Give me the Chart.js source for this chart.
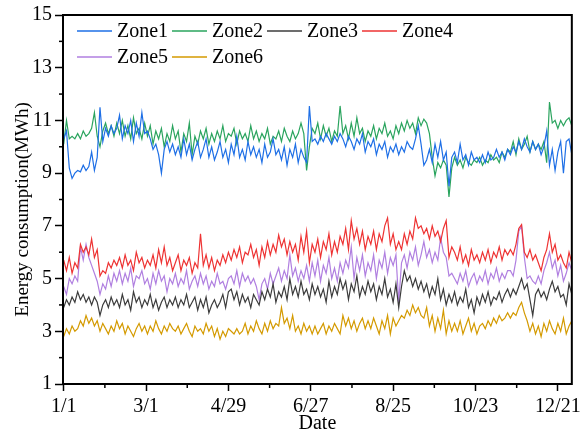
<!DOCTYPE html>
<html>
<head>
<meta charset="utf-8">
<script src="https://cdn.jsdelivr.net/npm/chart.js@4.4.0/dist/chart.umd.min.js"></script>
<style>
  html, body { margin: 0; padding: 0; background: #fff; }
  #wrap { width: 585px; height: 443px; }
</style>
</head>
<body>
<div id="wrap"><canvas id="chart" width="585" height="443"></canvas></div>
<script>
// Daily energy use, one value every second day from 1/1
const dayStep = 2;

const zone1 = [
  10.3,10.6,9.2,8.8,9.0,9.1,9.05,9.3,9.1,9.25,
  9.8,9.1,9.6,11.5,10.2,10.7,10.4,10.8,10.5,10.7,
  11.2,10.3,10.8,10.5,11.0,10.2,10.9,10.4,11.3,10.5,
  10.6,10.3,9.9,10.1,9.7,9.0,9.9,10.2,9.8,10.1,
  9.7,10.0,9.6,10.3,9.7,10.1,9.5,9.9,10.2,9.6,
  9.9,10.3,9.6,10.0,9.5,9.8,10.2,9.6,9.9,9.4,
  10.1,9.7,10.4,9.6,9.9,9.5,10.2,9.7,10.0,9.6,
  9.9,9.4,10.1,9.6,9.8,10.3,9.7,9.9,9.5,10.0,
  9.3,9.9,9.6,10.1,9.4,9.9,9.6,9.4,11.55,10.2,
  10.3,10.1,10.4,10.2,10.5,10.3,10.1,10.4,10.2,10.5,
  10.3,10.0,10.4,10.2,9.9,10.3,10.1,10.5,9.8,10.2,
  10.0,10.3,9.7,10.1,9.9,10.2,9.6,10.0,9.8,10.1,
  9.7,10.0,9.8,10.2,10.0,9.9,10.3,10.8,10.1,9.3,
  9.5,9.9,9.4,10.1,9.6,10.2,9.5,9.8,8.5,9.6,
  9.8,9.4,10.1,9.5,9.7,9.3,9.8,9.5,9.6,9.4,
  9.7,9.4,9.8,9.5,9.6,9.9,9.6,9.8,9.5,9.9,
  9.7,10.0,9.8,10.2,9.9,10.3,10.0,9.8,10.2,9.9,
  10.1,9.7,10.0,10.6,9.3,9.9,9.1,9.8,10.2,9.0,
  10.2,10.3,9.7
];
const zone2 = [
  10.1,11.0,10.3,10.4,10.3,10.5,10.3,10.6,10.4,10.5,
  10.7,11.3,10.4,10.0,10.6,10.9,10.5,10.8,10.4,10.9,
  10.5,11.0,10.4,10.8,10.3,11.1,10.5,10.7,10.3,10.9,
  10.4,10.8,10.1,10.6,10.3,10.7,10.0,10.5,10.2,10.8,
  10.3,10.6,9.8,10.5,10.2,10.9,9.7,10.4,10.1,10.6,
  10.3,10.7,10.1,10.5,10.2,10.6,10.3,10.8,10.2,10.5,
  10.4,10.7,10.1,10.6,10.3,10.5,10.2,10.8,10.3,10.6,
  10.2,10.5,10.3,10.7,10.1,10.4,10.3,10.6,10.2,10.7,
  10.4,10.2,10.6,10.3,10.5,10.9,10.5,9.1,10.0,10.7,
  10.5,10.9,10.3,10.8,10.4,10.7,10.2,10.6,10.4,11.55,
  10.5,10.8,10.3,10.9,10.4,11.1,10.5,10.7,10.2,10.6,
  10.4,10.8,10.3,10.7,10.5,10.9,10.4,10.6,10.3,10.8,
  10.5,10.9,10.6,11.0,10.7,10.9,10.5,11.1,10.8,11.05,
  10.9,10.5,9.6,8.9,9.4,9.2,9.5,9.3,8.1,9.2,
  9.6,9.3,9.5,9.2,9.6,9.4,9.3,9.5,9.4,9.6,
  9.3,9.5,9.4,9.7,9.5,9.6,9.4,9.8,9.6,9.9,
  9.8,10.2,9.7,10.3,9.9,10.1,10.4,9.8,10.2,9.9,
  10.1,9.9,10.2,9.4,11.7,10.9,11.0,10.7,11.0,10.8,
  11.0,11.1,10.8
];
const zone3 = [
  3.9,4.2,4.0,4.3,4.1,4.5,4.2,4.4,4.1,4.3,
  4.0,4.3,4.1,3.6,4.0,4.2,3.9,4.3,4.0,4.2,
  3.9,4.4,4.0,4.2,3.8,4.5,4.1,4.3,3.9,4.2,
  4.0,4.4,3.9,4.2,3.8,4.1,4.3,3.9,4.2,4.0,
  4.3,3.9,4.2,4.0,4.4,3.9,4.1,4.3,3.8,4.2,
  3.9,4.3,3.7,4.0,4.2,3.9,4.1,4.4,3.9,4.5,
  4.6,4.2,4.5,4.0,4.4,4.1,4.3,3.9,4.4,4.2,
  4.0,4.5,4.2,4.6,4.3,4.8,4.1,4.5,4.3,4.7,
  4.2,5.0,4.4,4.7,4.3,4.9,4.4,4.6,4.2,4.8,
  4.4,4.7,4.3,4.6,4.1,4.9,4.3,4.7,4.4,5.0,
  4.6,4.9,4.2,4.8,4.5,5.1,4.3,4.7,4.4,4.9,
  4.5,4.8,4.2,4.7,4.4,5.0,4.3,4.6,4.1,4.8,
  3.9,4.7,5.3,4.9,5.1,4.7,5.0,4.6,4.9,4.5,
  4.8,4.3,4.7,4.4,5.0,4.2,4.6,4.0,4.4,4.1,
  4.5,4.0,4.3,4.1,4.6,3.9,4.2,3.7,4.3,4.0,
  4.4,4.1,4.5,4.0,4.3,4.2,4.5,4.1,4.4,4.6,
  4.3,4.6,4.4,4.7,5.0,4.6,4.8,4.2,3.6,4.4,
  4.6,4.3,4.5,4.2,4.6,4.9,4.5,4.7,4.3,4.4,
  4.0,4.8,4.4
];
const zone4 = [
  5.7,5.3,5.8,5.2,5.6,5.4,6.3,6.0,6.2,5.9,
  6.5,5.8,6.1,5.1,5.3,5.2,5.6,5.4,5.7,5.5,
  5.8,5.4,5.9,5.5,5.7,5.3,6.0,5.6,5.8,5.4,
  5.7,5.5,5.9,5.4,6.1,5.6,6.2,5.5,5.8,5.3,
  5.6,5.9,5.3,5.7,5.5,5.8,5.2,5.6,5.4,6.7,
  5.5,5.9,5.4,5.8,5.3,5.7,5.5,5.9,5.6,6.0,
  5.7,6.1,5.8,6.2,5.6,6.0,5.9,6.3,5.8,6.1,
  5.5,6.2,5.8,6.4,5.9,6.3,6.0,6.65,6.2,6.5,
  5.9,6.4,6.0,6.3,5.7,6.6,6.0,6.8,5.6,6.3,
  6.0,6.5,5.8,6.4,6.1,6.7,5.9,6.4,6.0,6.6,
  6.3,6.9,6.1,7.2,6.5,6.9,6.3,6.8,6.1,6.6,
  6.3,6.8,6.1,6.7,6.4,7.0,7.3,6.3,6.7,6.1,
  6.4,6.1,6.7,6.3,6.8,6.5,7.3,6.9,7.0,6.7,
  6.9,6.5,7.0,6.6,6.8,6.4,6.9,7.2,5.8,6.2,
  6.0,5.7,6.2,5.6,5.9,5.5,6.1,5.7,5.9,5.6,
  6.0,5.7,6.1,5.6,6.0,5.8,6.2,5.7,6.1,5.9,
  6.1,5.9,6.3,6.9,7.05,6.0,5.8,6.1,5.7,5.9,
  5.6,5.3,5.8,6.1,6.7,6.0,6.3,5.7,5.9,5.6,
  5.4,6.0,5.6
];
const zone5 = [
  4.7,4.4,5.0,4.8,5.1,4.9,6.2,5.7,6.3,5.8,
  5.5,5.2,4.9,4.4,4.8,4.6,5.1,4.7,5.2,4.9,
  5.3,4.8,5.2,4.9,5.4,4.7,5.1,5.0,5.3,4.8,
  5.0,4.6,5.2,4.8,5.3,4.9,5.1,4.5,5.0,4.8,
  5.2,4.7,5.0,4.8,5.3,4.6,4.9,5.1,4.7,5.2,
  4.8,5.1,4.6,4.9,4.7,5.2,4.8,4.9,4.6,5.0,
  5.1,4.8,5.3,4.7,5.2,4.9,5.1,4.8,5.0,4.7,
  4.2,4.8,5.0,4.6,5.2,4.8,5.1,5.4,4.9,5.3,
  5.0,5.9,5.1,5.4,4.9,5.3,5.0,5.5,4.9,5.6,
  5.1,5.7,4.9,5.5,5.2,5.8,5.0,5.4,4.9,5.6,
  5.2,5.7,5.4,6.2,5.0,5.8,5.3,5.9,5.1,5.6,
  5.3,5.9,5.0,5.7,5.4,6.0,5.2,5.8,5.5,5.9,
  4.1,5.6,5.9,5.4,6.0,5.7,6.2,5.5,5.9,6.4,
  5.8,6.1,5.6,6.0,5.7,6.55,6.0,5.8,5.1,5.2,
  5.0,4.8,5.2,4.9,5.3,4.7,5.0,5.2,4.8,5.1,
  4.9,5.3,4.8,5.2,5.0,5.4,4.9,5.2,5.0,5.3,
  5.3,5.1,5.7,6.8,7.0,5.8,5.0,5.1,4.9,4.8,
  5.1,4.8,5.3,5.6,6.0,5.4,5.7,5.1,5.5,4.9,
  5.2,5.6,5.3
];
const zone6 = [
  2.8,3.1,2.9,3.2,3.0,3.1,3.4,3.2,3.6,3.3,
  3.5,3.2,3.4,3.0,3.3,3.1,2.9,3.2,3.0,3.4,
  3.1,3.3,2.9,3.2,3.0,2.8,3.1,3.3,3.0,3.2,
  2.9,3.2,3.0,3.4,3.1,2.9,3.2,3.0,3.3,3.1,
  3.0,3.2,2.9,3.1,3.3,3.0,2.8,3.2,3.0,3.1,
  2.9,3.3,3.0,3.2,2.8,3.1,2.7,3.0,2.8,3.1,
  3.0,2.9,3.1,2.9,3.0,3.3,2.9,3.2,3.0,3.4,
  3.1,2.9,3.3,3.0,3.4,3.1,3.3,3.2,3.9,3.3,
  3.5,3.1,3.6,3.0,3.2,2.9,3.3,3.0,3.2,2.9,
  3.2,2.9,3.1,3.3,2.9,3.2,3.0,3.3,3.1,2.9,
  3.6,3.2,3.5,3.1,3.4,3.0,3.3,3.5,3.1,3.4,
  3.1,3.5,3.2,2.9,3.4,3.1,3.6,2.9,3.5,3.2,
  3.4,3.6,3.5,3.8,3.6,4.0,3.7,3.9,3.6,3.5,
  3.9,3.2,3.6,3.0,3.5,3.1,3.8,2.9,3.4,3.0,
  3.3,3.0,3.4,2.9,3.2,3.5,3.0,3.3,2.9,3.2,
  3.3,3.1,3.4,3.2,3.5,3.3,3.6,3.4,3.5,3.7,
  3.5,3.7,3.6,3.9,4.1,3.7,3.4,3.0,3.3,2.9,
  3.2,2.8,3.3,3.0,3.4,3.1,2.9,3.3,3.0,3.5,
  2.9,3.2,3.4
];

const zoneNames = ['Zone1', 'Zone2', 'Zone3', 'Zone4', 'Zone5', 'Zone6'];
const tickDays = [0, 59, 118, 177, 236, 295, 354];
const tickLabels = ['1/1', '3/1', '4/29', '6/27', '8/25', '10/23', '12/21'];
const yTicks = [1, 3, 5, 7, 9, 11, 13, 15];
const yTitle = 'Energy consumption(MWh)';

const colors = ['#1e6fe6', '#2aa45e', '#3c3c3c', '#ee3333', '#b07fe0', '#d49a00'];
const serif = "'Liberation Serif', 'Times New Roman', serif";

Chart.defaults.font.family = serif;
Chart.defaults.font.size = 20;
Chart.defaults.color = '#000';

const datasets = [zone1, zone2, zone3, zone4, zone5, zone6].map((vals, k) => ({
  label: zoneNames[k],
  data: vals.map((v, i) => ({ x: i * dayStep, y: v })),
  borderColor: colors[k],
  borderWidth: 1.2,
  pointRadius: 0,
  tension: 0
}));

// box around the plot, minor ticks, y title and the in-plot legend
const frame = {
  id: 'frame',
  afterDraw(chart) {
    const { ctx, chartArea: a, scales } = chart;
    ctx.save();
    ctx.strokeStyle = '#000';

    ctx.lineWidth = 1.5;
    scales.x.ticks.forEach((t) => {
      const m = t.value + 29.5;
      if (m < scales.x.max) {
        const px = scales.x.getPixelForValue(m);
        ctx.beginPath(); ctx.moveTo(px, a.bottom); ctx.lineTo(px, a.bottom + 4); ctx.stroke();
      }
    });
    yTicks.forEach((v) => {
      if (v + 1 < scales.y.max) {
        const py = scales.y.getPixelForValue(v + 1);
        ctx.beginPath(); ctx.moveTo(a.left - 4, py); ctx.lineTo(a.left, py); ctx.stroke();
      }
    });

    ctx.lineWidth = 2;
    ctx.strokeRect(a.left, a.top, a.right - a.left, a.bottom - a.top);

    // y title sits a little below the axis centre in the original
    ctx.fillStyle = '#000';
    ctx.font = '19px ' + serif;
    ctx.textAlign = 'center';
    ctx.textBaseline = 'middle';
    ctx.save();
    ctx.translate(23, (a.top + a.bottom) / 2 + 10);
    ctx.rotate(-Math.PI / 2);
    ctx.fillText(yTitle, 0, 0);
    ctx.restore();

    // legend: 4 per row
    ctx.font = '20px ' + serif;
    ctx.textAlign = 'left';
    chart.data.datasets.forEach((ds, k) => {
      const x = 77 + (k % 4) * 95;
      const y = 31 + Math.floor(k / 4) * 26;
      ctx.strokeStyle = ds.borderColor;
      ctx.lineWidth = 1.6;
      ctx.beginPath(); ctx.moveTo(x, y); ctx.lineTo(x + 35, y); ctx.stroke();
      ctx.fillText(ds.label, x + 40, y + 1);
    });
    ctx.restore();
  }
};

new Chart(document.getElementById('chart'), {
  type: 'line',
  data: { datasets },
  options: {
    responsive: false,
    animation: false,
    devicePixelRatio: 1,
    layout: { padding: { top: 14, right: 13, left: 0, bottom: 0 } },
    plugins: { legend: { display: false }, tooltip: { enabled: false } },
    scales: {
      x: {
        type: 'linear',
        min: -0.5,
        max: 364,
        afterBuildTicks: (s) => { s.ticks = tickDays.map((v) => ({ value: v })); },
        afterFit: (s) => { s.height = 59; },
        border: { display: false },
        grid: { drawOnChartArea: false, tickLength: 7, tickColor: '#000', tickWidth: 1.5 },
        ticks: { padding: 4, maxRotation: 0, autoSkip: false, callback: (v, i) => tickLabels[i] },
        title: { display: true, text: 'Date', padding: { top: 0, bottom: 7.5 } }
      },
      y: {
        min: 1,
        max: 15,
        afterBuildTicks: (s) => { s.ticks = yTicks.map((v) => ({ value: v })); },
        afterFit: (s) => { s.width = 63; },
        border: { display: false },
        grid: { drawOnChartArea: false, tickLength: 8, tickColor: '#000', tickWidth: 1.5 },
        ticks: { padding: 3, callback: (v) => String(v) },
        title: { display: false }
      }
    }
  },
  plugins: [frame]
});
</script>
</body>
</html>
